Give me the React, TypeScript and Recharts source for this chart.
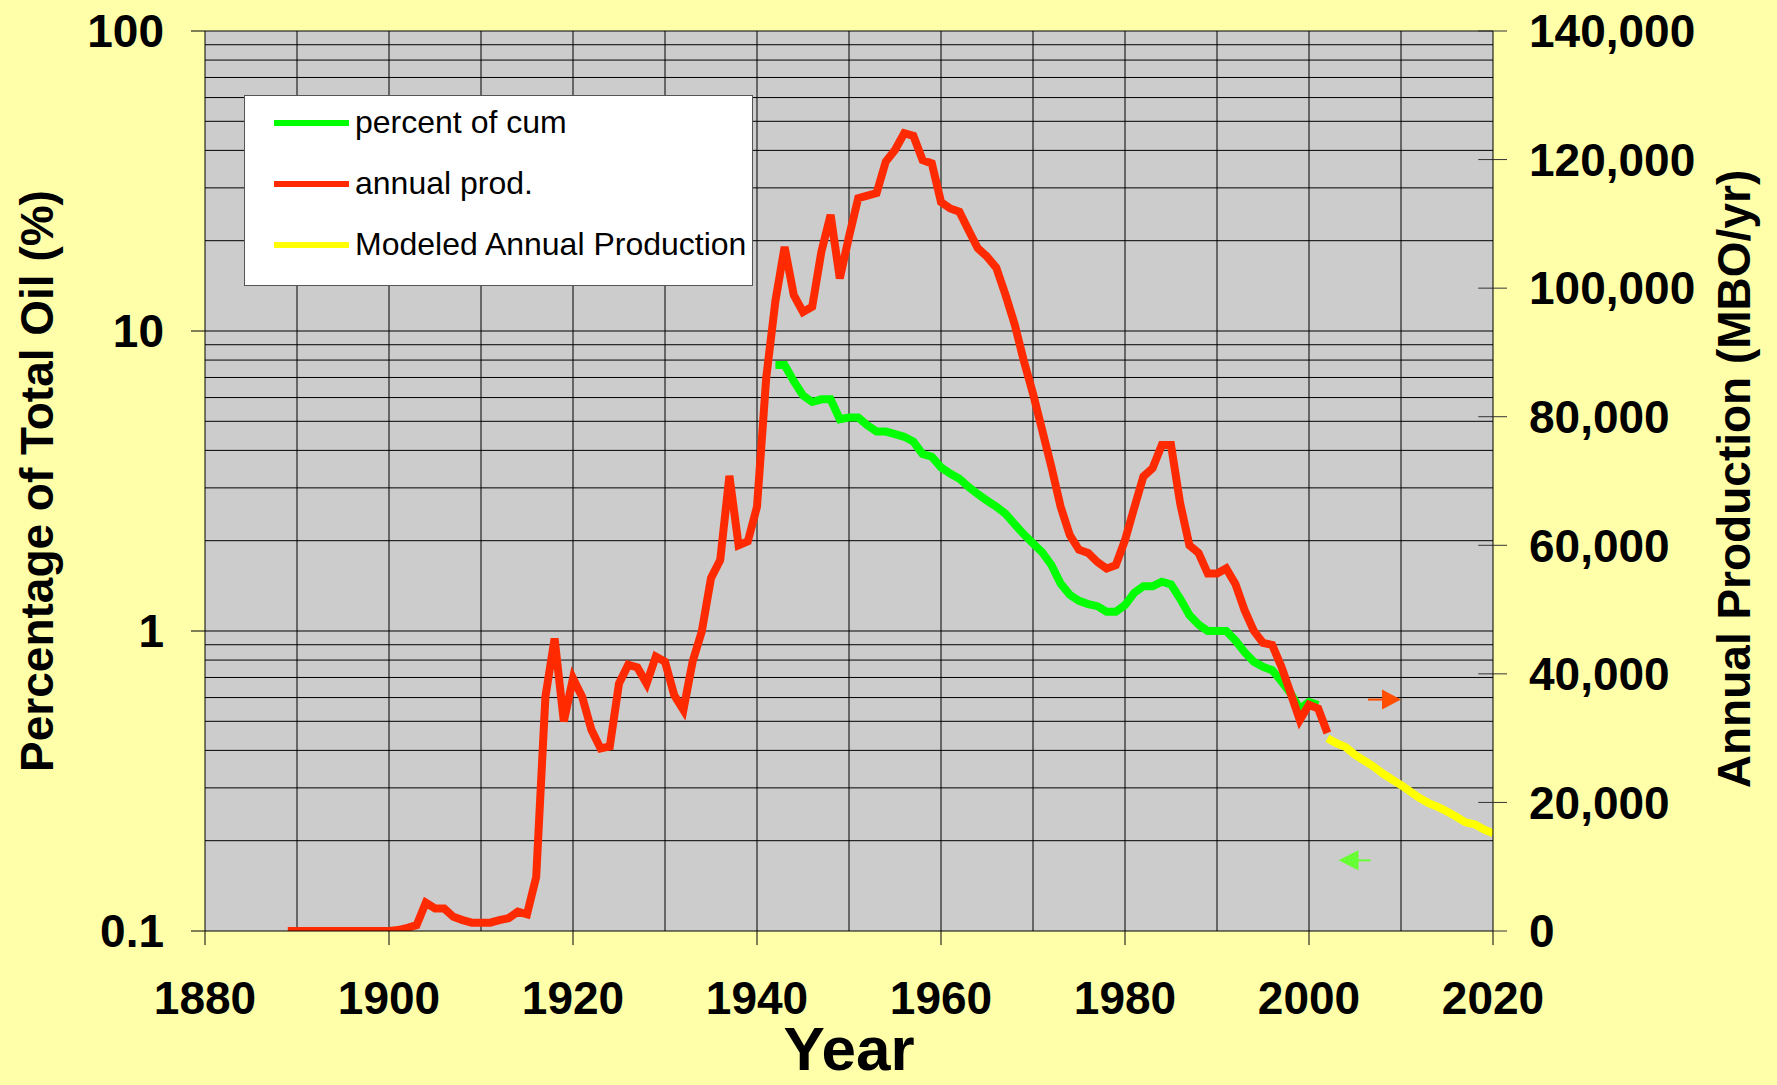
import React from "react";
import {
  ComposedChart,
  Line,
  XAxis,
  YAxis,
  CartesianGrid,
  ReferenceLine,
  ReferenceDot,
  Legend,
} from "recharts";

// ---------------------------------------------------------------------------
// Data
// ---------------------------------------------------------------------------

const annualStartYear = 1889;
// MBO/yr, right axis
const annualProd = [
  0, 0, 0, 0, 0, 0, 0, 0, 0, 0, 0, 0,
  150, 500, 900, 4400, 3500, 3500, 2200, 1700, 1300, 1300,
  1300, 1700, 2000, 3000, 2600, 8400, 36400, 45500, 32600, 39300,
  36400, 31300, 28400, 28700, 38500, 41400, 41000, 38500, 42700, 41900,
  36700, 34400, 41900, 46600, 54900, 57700, 70800, 60000, 60600, 66000,
  86000, 98000, 106400, 98900, 96300, 97100, 105700, 111400, 101500, 108000,
  114000, 114400, 114800, 119700, 121500, 124100, 123700, 119900, 119400, 113400,
  112400, 111900, 109000, 106200, 104900, 103200, 99000, 94400, 88700, 83600,
  77900, 72200, 66000, 61600, 59300, 58800, 57400, 56400, 56900, 60800,
  65800, 70700, 72000, 75600, 75600, 66500, 60000, 58800, 55600, 55600,
  56400, 54000, 49900, 46700, 44800, 44500, 41100, 37000, 32800, 35200,
  34600, 30800,
];

const pctStartYear = 1942;
// percent of total oil, left (log) axis
const pctOfCum = [
  7.7, 7.7, 6.8, 6.1, 5.8, 5.92, 5.92, 5.08, 5.15, 5.15,
  4.85, 4.62, 4.62, 4.53, 4.44, 4.28, 3.89, 3.81, 3.51, 3.35,
  3.22, 3.02, 2.86, 2.72, 2.6, 2.46, 2.27, 2.1, 1.96, 1.83,
  1.66, 1.44, 1.32, 1.26, 1.23, 1.21, 1.16, 1.16, 1.22, 1.34,
  1.41, 1.41, 1.46, 1.43, 1.28, 1.13, 1.05, 1.0, 1.0, 1.0,
  0.93, 0.85, 0.79, 0.76, 0.74, 0.68, 0.62, 0.55, 0.58, 0.566,
];

const modeledStartYear = 2002;
// MBO/yr, right axis
const modeledProd = [
  30000, 29200, 28600, 27400, 26500, 25600, 24500, 23600, 22700, 21700,
  20700, 19900, 19300, 18600, 17800, 16900, 16600, 15800, 15200,
];

const seriesNames = ["percent of cum", "annual prod.", "Modeled Annual Production"];

const yearTicks = [1880, 1900, 1920, 1940, 1960, 1980, 2000, 2020];
const decadeLines = [1890, 1900, 1910, 1920, 1930, 1940, 1950, 1960, 1970, 1980, 1990, 2000, 2010];
const pctTicks = [0.1, 1, 10, 100];
const pctGrid = [
  0.2, 0.3, 0.4, 0.5, 0.6, 0.7, 0.8, 0.9, 1,
  2, 3, 4, 5, 6, 7, 8, 9, 10,
  20, 30, 40, 50, 60, 70, 80, 90, 100,
];
const prodTicks = [0, 20000, 40000, 60000, 80000, 100000, 120000, 140000];

// ---------------------------------------------------------------------------
// Build chart rows
// ---------------------------------------------------------------------------

type Row = { year: number; annual?: number; pct?: number; modeled?: number };

const rows: Row[] = [];
for (let y = 1889; y <= 2020; y++) {
  const r: Row = { year: y };
  const ai = y - annualStartYear;
  if (ai >= 0 && ai < annualProd.length) r.annual = annualProd[ai];
  const pi = y - pctStartYear;
  if (pi >= 0 && pi < pctOfCum.length) r.pct = pctOfCum[pi];
  const mi = y - modeledStartYear;
  if (mi >= 0 && mi < modeledProd.length) r.modeled = modeledProd[mi];
  rows.push(r);
}

// ---------------------------------------------------------------------------
// Styling
// ---------------------------------------------------------------------------

const FONT = '"Liberation Sans", Arial, Helvetica, sans-serif';
const PAGE_BG = "#FFFFAA";
const PLOT_BG = "#CCCCCC";
const GREEN = "#00FF00";
const RED = "#FF2A00";
const YELLOW = "#FFFF00";

const tickStyle = { fill: "#000", fontSize: 46, fontWeight: 700, fontFamily: FONT };

function LegendBox({ payload }: any) {
  // keep the series order of the original legend
  const items = [...(payload || [])].sort(
    (a: any, b: any) => seriesNames.indexOf(a.value) - seriesNames.indexOf(b.value)
  );
  return (
    <div
      style={{
        width: 509,
        height: 191,
        boxSizing: "border-box",
        background: "#fff",
        border: "1.5px solid #555",
        fontFamily: FONT,
        fontSize: 32,
        color: "#000",
      }}
    >
      <div style={{ position: "relative", top: -4 }}>
        {items.map((p: any) => (
          <div key={p.value} style={{ display: "flex", alignItems: "center", height: 61 }}>
            <span style={{ display: "inline-block", width: 75, height: 6, background: p.color, marginLeft: 29, marginRight: 6 }} />
            <span>{p.value}</span>
          </div>
        ))}
      </div>
    </div>
  );
}

function LeftTitle({ viewBox }: any) {
  const x = viewBox.x + 53;
  const y = viewBox.y + viewBox.height / 2;
  return (
    <text x={x} y={y} transform={`rotate(-90 ${x} ${y})`} textAnchor="middle"
      style={{ fontFamily: FONT, fontSize: 46, fontWeight: 700, fill: "#000" }}>
      Percentage of Total Oil (%)
    </text>
  );
}

function RightTitle({ viewBox }: any) {
  const x = viewBox.x + 257;
  const y = viewBox.y + viewBox.height / 2 - 2;
  return (
    <text x={x} y={y} transform={`rotate(-90 ${x} ${y})`} textAnchor="middle"
      style={{ fontFamily: FONT, fontSize: 46, fontWeight: 700, fill: "#000" }}>
      Annual Production (MBO/yr)
    </text>
  );
}

function XTitle({ viewBox }: any) {
  return (
    <text x={viewBox.x + viewBox.width / 2} y={viewBox.y + 139} textAnchor="middle"
      style={{ fontFamily: FONT, fontSize: 62, fontWeight: 700, fill: "#000" }}>
      Year
    </text>
  );
}

// arrow pointing right, tip at (cx, cy)
function ArrowRight({ cx, cy }: any) {
  return (
    <g>
      <line x1={cx - 33} y1={cy} x2={cx - 18} y2={cy} stroke="#FF4E00" strokeWidth={2} />
      <polygon points={`${cx},${cy} ${cx - 19},${cy - 10} ${cx - 19},${cy + 10}`} fill="#FF4E00" />
    </g>
  );
}

// arrow pointing left, tip at (cx, cy)
function ArrowLeft({ cx, cy }: any) {
  return (
    <g>
      <line x1={cx + 18} y1={cy} x2={cx + 32} y2={cy} stroke="#66FF33" strokeWidth={2} />
      <polygon points={`${cx},${cy} ${cx + 20},${cy - 10} ${cx + 20},${cy + 10}`} fill="#66FF33" />
    </g>
  );
}

export default function App() {
  return (
    <div style={{ width: 1777, height: 1085, background: PAGE_BG, position: "relative" }}>
      <style>{"body{margin:0;}"}</style>
      <ComposedChart
        width={1777}
        height={1085}
        data={rows}
        margin={{ top: 31, right: 0, bottom: 0, left: 0 }}
      >
        <CartesianGrid horizontal={false} vertical={false} fill={PLOT_BG} />

        {pctGrid.map((v) => (
          <ReferenceLine key={`h-${v}`} yAxisId="left" y={v} stroke="#000" strokeWidth={1} />
        ))}
        {decadeLines.map((yr) => (
          <ReferenceLine key={`v-${yr}`} yAxisId="left" x={yr} stroke="#000" strokeWidth={1} />
        ))}
        {prodTicks.slice(1).map((v) => (
          <ReferenceLine
            key={`rt-${v}`}
            yAxisId="right"
            segment={[{ x: 2018.4, y: v }, { x: 2020, y: v }]}
            stroke="#333"
            strokeWidth={1}
          />
        ))}

        <XAxis
          dataKey="year"
          type="number"
          domain={[1880, 2020]}
          ticks={yearTicks}
          allowDataOverflow
          height={154}
          tick={tickStyle}
          tickSize={14}
          tickMargin={36}
          axisLine={{ stroke: "#000" }}
          tickLine={{ stroke: "#000" }}
          label={{ content: <XTitle /> }}
        />
        <YAxis
          yAxisId="left"
          scale="log"
          domain={[0.1, 100]}
          ticks={pctTicks}
          allowDataOverflow
          width={205}
          tick={tickStyle}
          tickSize={14}
          tickMargin={27}
          tickFormatter={(v: number) => String(v)}
          axisLine={{ stroke: "#000" }}
          tickLine={{ stroke: "#000" }}
          label={{ content: <LeftTitle /> }}
        />
        <YAxis
          yAxisId="right"
          orientation="right"
          domain={[0, 140000]}
          ticks={prodTicks}
          allowDataOverflow
          width={284}
          tick={tickStyle}
          tickSize={14}
          tickMargin={22}
          tickFormatter={(v: number) => v.toLocaleString("en-US")}
          axisLine={{ stroke: "#000" }}
          tickLine={{ stroke: "#333" }}
          label={{ content: <RightTitle /> }}
        />

        <Line
          yAxisId="left"
          type="linear"
          dataKey="pct"
          name={seriesNames[0]}
          stroke={GREEN}
          strokeWidth={8}
          dot={false}
          activeDot={false}
          isAnimationActive={false}
        />
        <Line
          yAxisId="right"
          type="linear"
          dataKey="annual"
          name={seriesNames[1]}
          stroke={RED}
          strokeWidth={8}
          dot={false}
          activeDot={false}
          isAnimationActive={false}
        />
        <Line
          yAxisId="right"
          type="linear"
          dataKey="modeled"
          name={seriesNames[2]}
          stroke={YELLOW}
          strokeWidth={8}
          dot={false}
          activeDot={false}
          isAnimationActive={false}
        />

        <ReferenceDot yAxisId="right" x={2010} y={36000} r={0} shape={<ArrowRight />} />
        <ReferenceDot yAxisId="left" x={2003.2} y={0.172} r={0} shape={<ArrowLeft />} />

        <Legend
          layout="vertical"
          align="center"
          verticalAlign="middle"
          wrapperStyle={{ position: "absolute", left: 244, top: 95, width: 509, height: 191 }}
          content={<LegendBox />}
        />
      </ComposedChart>
    </div>
  );
}
